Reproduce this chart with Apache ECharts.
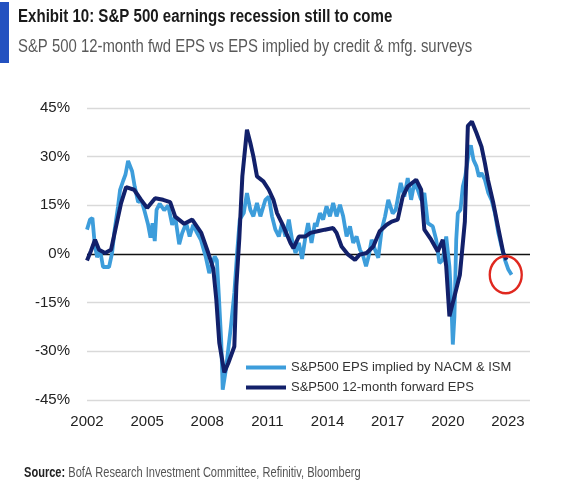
<!DOCTYPE html>
<html>
<head>
<meta charset="utf-8">
<script src="https://cdn.jsdelivr.net/npm/echarts@6/dist/echarts.min.js"></script>
<style>
html,body{margin:0;padding:0;background:#fff;}
#chart{width:587px;height:489px;}
</style>
</head>
<body>
<div id="chart"></div>
<script>
// ---- data (decimal years, % values) ----
var fwdYears = [2002.0,2002.2,2002.4,2002.6,2002.9,2003.2,2003.45,2003.7,2003.95,2004.35,2004.7,2005.0,2005.4,2005.8,2006.15,2006.4,2006.85,2007.25,2007.7,2008.05,2008.3,2008.45,2008.6,2008.85,2009.05,2009.35,2009.45,2009.6,2009.75,2009.98,2010.15,2010.3,2010.48,2010.8,2011.07,2011.3,2011.48,2011.8,2012.15,2012.3,2012.57,2012.9,2013.15,2013.5,2013.87,2014.28,2014.45,2014.7,2015.03,2015.37,2015.6,2015.95,2016.28,2016.6,2016.95,2017.2,2017.5,2017.75,2018.0,2018.42,2018.67,2018.83,2019.17,2019.5,2019.75,2019.92,2020.08,2020.33,2020.6,2020.85,2021.0,2021.2,2021.43,2021.68,2021.85,2022.0,2022.27,2022.5,2022.77,2022.93];
var fwdEPS = [-2.0,1.0,4.4,1.3,0.3,1.3,8.5,15.7,20.6,19.8,16.7,14.2,17.2,16.7,16.0,11.5,9.3,10.6,6.5,0.3,-4.5,-14.0,-27.4,-36.5,-33.6,-28.5,-10.0,5.0,24.0,38.3,34.2,30.1,23.9,22.4,19.8,16.7,12.6,8.5,3.4,1.8,5.4,5.4,6.5,7.0,7.5,8.0,6.5,2.3,-0.2,-1.8,-0.2,0.3,2.3,7.0,9.0,10.0,10.6,17.7,20.8,22.9,19.8,7.5,4.4,0.8,4.4,-3.8,-19.2,-13.1,-6.5,10.0,39.5,40.8,37.3,33.1,28.0,22.9,15.7,8.5,0.3,-1.8];

var impYears = [2002.0,2002.15,2002.27,2002.38,2002.5,2002.65,2002.8,2003.1,2003.25,2003.38,2003.55,2003.65,2003.8,2003.92,2004.05,2004.13,2004.25,2004.38,2004.55,2004.72,2004.88,2005.05,2005.17,2005.27,2005.38,2005.47,2005.63,2005.85,2006.05,2006.25,2006.4,2006.6,2006.75,2006.95,2007.12,2007.3,2007.45,2007.68,2007.93,2008.1,2008.25,2008.37,2008.48,2008.58,2008.7,2008.77,2008.93,2009.18,2009.35,2009.5,2009.62,2009.82,2009.98,2010.15,2010.3,2010.48,2010.65,2010.9,2011.07,2011.23,2011.4,2011.57,2011.73,2011.9,2012.07,2012.23,2012.4,2012.57,2012.73,2012.9,2013.03,2013.2,2013.37,2013.45,2013.62,2013.78,2013.95,2014.12,2014.28,2014.45,2014.62,2014.78,2014.95,2015.12,2015.28,2015.45,2015.62,2015.78,2015.92,2016.05,2016.2,2016.37,2016.53,2016.7,2016.87,2017.03,2017.25,2017.4,2017.65,2017.83,2018.0,2018.17,2018.33,2018.5,2018.67,2018.83,2019.0,2019.25,2019.42,2019.58,2019.75,2019.92,2020.08,2020.17,2020.25,2020.33,2020.42,2020.5,2020.63,2020.75,2020.87,2021.03,2021.15,2021.28,2021.43,2021.55,2021.68,2021.85,2022.02,2022.18,2022.35,2022.52,2022.68,2022.85,2023.02,2023.18];
var impEPS = [7.5,10.6,11.1,3.4,-1.0,1.3,-4.0,-4.0,0.3,7.5,14.7,19.8,22.5,24.5,28.7,28.5,25.5,20.8,16.0,16.5,13.0,9.0,5.0,9.5,4.0,13.6,15.5,13.5,15.0,9.0,11.5,3.0,6.5,9.5,5.4,9.0,7.0,4.4,-1.0,-5.9,-2.8,-0.7,-2.0,-13.1,-27.4,-41.8,-35.6,-22.3,-12.0,1.3,10.6,12.6,18.8,13.6,11.6,15.7,11.6,16.7,17.7,11.6,7.5,5.4,9.5,5.4,10.6,4.4,0.3,3.4,-1.5,5.4,9.5,3.4,9.5,8.5,12.6,10.6,14.7,11.6,15.7,11.6,15.2,11.6,5.4,8.5,3.4,5.4,1.3,-0.7,-3.8,-0.7,4.4,1.3,-1.2,7.5,11.6,16.7,12.5,13.6,21.9,17.7,23.4,16.7,21.9,19.8,16.7,18.8,9.5,8.5,4.4,-2.8,-1.8,5.4,-3.8,-14.1,-27.9,-19.2,4.4,12.6,13.6,20.8,23.9,30.5,33.5,29.0,27.0,23.9,24.9,22.9,18.8,16.7,12.6,6.5,2.3,-1.8,-4.8,-6.4];

var yearTicks = [2002,2005,2008,2011,2014,2017,2020,2023];
var baseYear = 2002;
var highlight = [2022.89, -6.4];

var seriesNames = ['S&P500 EPS implied by NACM & ISM','S&P500 12-month forward EPS'];
var titleText = 'Exhibit 10: S&P 500 earnings recession still to come';
var subtitleText = 'S&P 500 12-month fwd EPS vs EPS implied by credit & mfg. surveys';
var sourceLabel = 'Source:';
var sourceText = ' BofA Research Investment Committee, Refinitiv, Bloomberg';

function pairs(xs, ys){ return xs.map(function(x,i){ return [x-baseYear, ys[i]]; }); }

var sans = "'Liberation Sans',Arial,sans-serif";
var chart = echarts.init(document.getElementById('chart'), null, {renderer:'canvas'});
chart.setOption({
  animation:false,
  backgroundColor:'#fff',
  graphic:[
    {type:'rect', left:0, top:2, shape:{width:9, height:61}, style:{fill:'#2351c0'}},
    {type:'text', x:18, y:17, scaleX:0.837, style:{text:titleText, fontFamily:sans, fontWeight:'bold', fontSize:18, fill:'#1a1a1a', verticalAlign:'middle', align:'left'}},
    {type:'text', x:18, y:47.5, scaleX:0.827, style:{text:subtitleText, fontFamily:sans, fontWeight:'normal', fontSize:18, fill:'#595959', verticalAlign:'middle', align:'left'}},
    {type:'text', x:24, y:473, scaleX:0.79, style:{text:'{b|'+sourceLabel+'}{r|'+sourceText+'}', fontFamily:sans, fontSize:14, fill:'#444', verticalAlign:'middle', align:'left',
      rich:{b:{fontFamily:sans, fontWeight:'bold', fontSize:14, fill:'#222', color:'#222'}, r:{fontFamily:sans, fontWeight:'normal', fontSize:14, fill:'#555', color:'#555'}}}}
  ],
  grid:{left:87, right:57, top:108, bottom:89},
  legend:{
    orient:'vertical', left:241, top:356, itemWidth:40, itemHeight:4, itemGap:7,
    icon:'rect', data:seriesNames,
    textStyle:{fontFamily:sans, fontSize:13, color:'#333'}
  },
  xAxis:{
    type:'value', min:0, max:22.1, interval:3,
    axisLine:{show:false}, axisTick:{show:false}, splitLine:{show:false},
    axisLabel:{showMaxLabel:false, margin:14, fontSize:15, color:'#222', fontFamily:sans,
      formatter:function(v){ var y = Math.round(v)+baseYear; return (Math.abs(v-Math.round(v))<1e-6 && yearTicks.indexOf(y)>=0) ? String(y) : ''; }}
  },
  yAxis:{
    type:'value', min:-45, max:45, interval:15,
    axisLine:{show:false}, axisTick:{show:false},
    axisLabel:{formatter:'{value}%', margin:17, fontSize:15, color:'#222', fontFamily:sans},
    splitLine:{lineStyle:{color:['#d9d9d9','#d9d9d9','#d9d9d9','#111','#d9d9d9','#d9d9d9','#d9d9d9'], width:1.4}}
  },
  series:[
    {name:seriesNames[0], type:'line', data:pairs(impYears, impEPS), showSymbol:false, symbol:'none',
     lineStyle:{color:'#3d9ddb', width:3.8}, itemStyle:{color:'#3d9ddb'}, z:2,
     markPoint:{symbol:'circle', symbolSize:[32,37], silent:true, label:{show:false},
       itemStyle:{color:'rgba(0,0,0,0)', borderColor:'#e0281f', borderWidth:2.5},
       data:[{coord:[highlight[0]-baseYear, highlight[1]]}]}},
    {name:seriesNames[1], type:'line', data:pairs(fwdYears, fwdEPS), showSymbol:false, symbol:'none',
     lineStyle:{color:'#12206a', width:4}, itemStyle:{color:'#12206a'}, z:3}
  ]
});
</script>
</body>
</html>
